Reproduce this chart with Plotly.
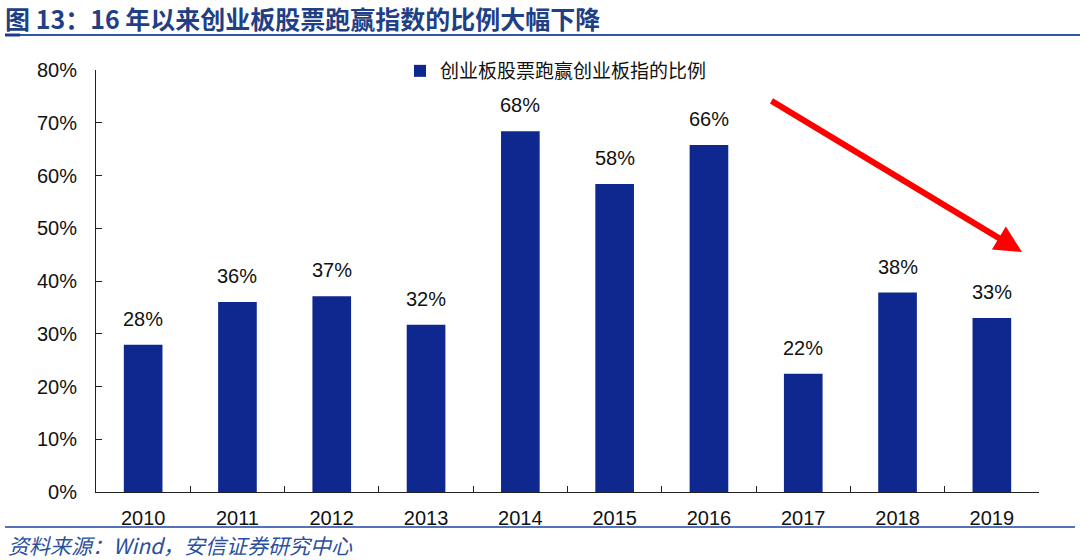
import plotly.graph_objects as go

years = ["2010", "2011", "2012", "2013", "2014", "2015", "2016", "2017", "2018", "2019"]
ratio = [0.279, 0.360, 0.371, 0.317, 0.684, 0.584, 0.658, 0.224, 0.378, 0.330]
series_name = "创业板股票跑赢创业板指的比例"
title_text = "图 13：16 年以来创业板股票跑赢指数的比例大幅下降"
source_text = "资料来源：Wind，安信证券研究中心"

L, R, T, B = 96, 41, 70, 68
W, H = 1080, 560
pw, ph = W - L - R, H - T - B

def px(x):
    return (x - L) / pw

def py(y):
    return (H - B - y) / ph

fig = go.Figure()
fig.add_trace(go.Bar(
    x=years, y=ratio, name=series_name,
    marker=dict(color="#0F2890", line=dict(width=0)),
))

# value labels above bars (category index positions on the category axis)
for i, v in enumerate(ratio):
    fig.add_annotation(x=i, y=v, xref="x", yref="y", text=f"{v:.0%}",
                       showarrow=False, yanchor="bottom", yshift=13,
                       font=dict(size=20, color="#111111", family="Liberation Sans, Arial"))

fig.update_layout(
    width=W, height=H,
    margin=dict(l=L, r=R, t=T, b=B),
    plot_bgcolor="white", paper_bgcolor="white",
    bargap=0.59,
    showlegend=True,
    legend=dict(x=px(400), y=py(52), xanchor="left", yanchor="top",
                font=dict(size=19, color="#111111", family="Noto Sans CJK SC"),
                itemwidth=30, bgcolor="rgba(0,0,0,0)"),
    font=dict(family="Liberation Sans, Arial", color="#111111"),
    title=dict(text="<b>" + title_text + "</b>", xref="container", yref="container",
               x=5 / W, y=1 - 20 / H, xanchor="left", yanchor="middle",
               font=dict(size=25, color="#1F3F86", family="Noto Sans CJK SC")),
)

fig.update_yaxes(
    range=[0, 0.8], dtick=0.1, tickformat=".0%",
    showgrid=False, zeroline=False,
    showline=True, linecolor="#222222", linewidth=1,
    ticks="inside", ticklen=6, tickcolor="#222222",
    tickfont=dict(size=20, color="#111111", family="Liberation Sans, Arial"),
    ticklabelstandoff=14,
)
fig.update_xaxes(
    type="category", range=[-0.5, len(years) - 0.5],
    showgrid=False, showline=True, linecolor="#222222", linewidth=1,
    ticks="inside", ticklen=6, tickcolor="#222222", tickson="boundaries",
    tickfont=dict(size=20, color="#111111", family="Liberation Sans, Arial"),
    ticklabelstandoff=8,
)

# header and footer rules
fig.add_shape(type="line", xref="paper", yref="paper",
              x0=px(5), x1=px(1080), y0=py(35), y1=py(35),
              line=dict(color="#2F56A6", width=2))
fig.add_shape(type="line", xref="paper", yref="paper",
              x0=px(5), x1=px(20), y0=py(35), y1=py(35),
              line=dict(color="#1A3C8C", width=3))
fig.add_shape(type="line", xref="paper", yref="paper",
              x0=px(5), x1=px(1075), y0=py(527), y1=py(527),
              line=dict(color="#5572B8", width=2))

# source note
fig.add_annotation(xref="paper", yref="paper", x=px(6), y=py(545),
                   xanchor="left", yanchor="middle", showarrow=False,
                   text="<i>" + source_text + "</i>",
                   font=dict(size=21, color="#2A4F9E", family="Noto Sans CJK SC"))

# red trend arrow
fig.add_annotation(xref="paper", yref="paper", x=px(1022), y=py(252),
                   ax=770 - 1022, ay=100 - 252, axref="pixel", ayref="pixel",
                   showarrow=True, arrowhead=2, arrowsize=0.9, arrowwidth=6,
                   arrowcolor="#FF0000", text="")

fig.write_html("out.html", config={"displayModeBar": False},
               post_script="document.body.style.margin='0';")
